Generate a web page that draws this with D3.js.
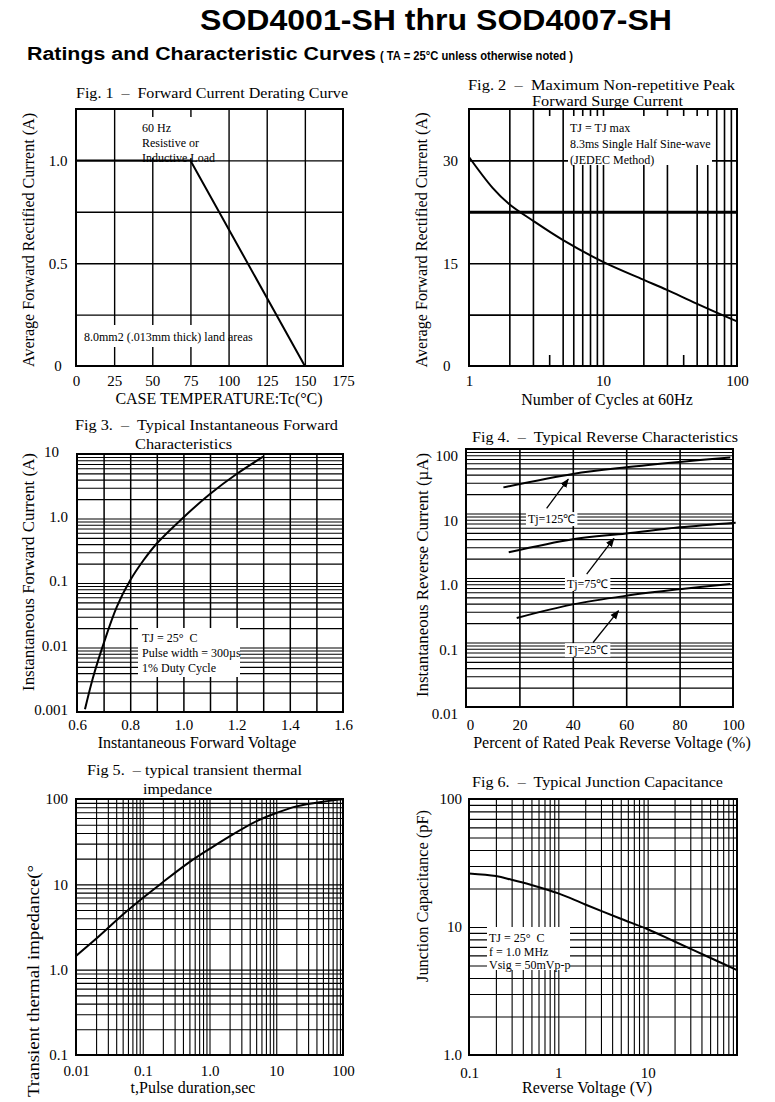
<!DOCTYPE html>
<html>
<head>
<meta charset="utf-8">
<script src="https://cdn.jsdelivr.net/npm/d3@7"></script>
<style>
body { margin: 0; background: #fff; }
svg text { font-family: "Liberation Serif", "Times New Roman", serif; fill: #000; white-space: pre; }
svg .sans { font-family: "Liberation Sans", Arial, sans-serif; font-weight: bold; }
</style>
</head>
<body>
<svg id="chart" width="775" height="1102"></svg>
<script>
// ---- data ----
// fig 1 derating
const f1Temp = [0, 75, 150];
const f1Amp = [1.0, 1.0, 0];
const f1XTicks = [0, 25, 50, 75, 100, 125, 150, 175];
const f1YTicks = [0, 0.5, 1.0];
const f1YLabels = ["0", "0.5", "1.0"];

// fig 2 surge current
const f2Cycles = [1, 1.5, 2, 3, 5, 10, 20, 30, 50, 100];
const f2Amp = [30.5, 26, 23.6, 21.2, 18.4, 15.2, 12.6, 11.1, 9.1, 6.5];
const f2XTicks = [1, 10, 100];
const f2YTicks = [0, 15, 30];
const f2YGrid = [7.5, 15, 22.5, 30];

// fig 3 forward characteristics
const f3Volt = [0.63, 0.66, 0.7, 0.75, 0.8, 0.85, 0.9, 1.0, 1.1, 1.2, 1.3];
const f3Amp = [0.0011, 0.0034, 0.0115, 0.043, 0.11, 0.225, 0.41, 1.04, 2.4, 4.9, 9.1];
const f3XTicks = [0.6, 0.7, 0.8, 0.9, 1.0, 1.1, 1.2, 1.3, 1.4, 1.5, 1.6];
const f3XLabels = ["0.6", "0.8", "1.0", "1.2", "1.4", "1.6"];
const f3YTicks = [0.001, 0.01, 0.1, 1, 10];
const f3YLabels = ["0.001", "0.01", "0.1", "1.0", "10"];

// fig 4 reverse characteristics
const f4Pct125 = [14, 40, 60, 80, 99];
const f4Ir125 = [25.4, 41, 52, 63, 74];
const f4Pct75 = [16, 40, 60, 80, 101];
const f4Ir75 = [2.5, 4.0, 4.9, 6.1, 7.2];
const f4Pct25 = [19, 40, 60, 80, 99];
const f4Ir25 = [0.24, 0.39, 0.53, 0.67, 0.81];
const f4Names = ["Tj=125℃", "Tj=75℃", "Tj=25℃"];
const f4NamePos = [[23.2, 7.1], [37.8, 0.70], [37.8, 0.066]];
const f4ArrowFrom = [[30.2, 12], [45.2, 1.15], [47.6, 0.10]];
const f4ArrowTo = [[38.3, 34], [55.4, 4.1], [57.1, 0.31]];
const f4XTicks = [0, 20, 40, 60, 80, 100];
const f4YTicks = [0.01, 0.1, 1, 10, 100];
const f4YLabels = ["0.01", "0.1", "1.0", "10", "100"];

// fig 5 transient thermal impedance
const f5Time = [0.01, 0.02, 0.05, 0.1, 0.2, 0.5, 1, 2, 5, 10, 20, 50, 100];
const f5Imp = [1.45, 2.3, 4.4, 6.9, 10.6, 18.2, 26, 36.5, 54.7, 68.5, 82, 93, 99];
const f5XTicks = [0.01, 0.1, 1, 10, 100];
const f5XLabels = ["0.01", "0.1", "1.0", "10", "100"];
const f5YTicks = [0.1, 1, 10, 100];
const f5YLabels = ["0.1", "1.0", "10", "100"];

// fig 6 junction capacitance
const f6Volt = [0.1, 0.2, 0.3, 0.5, 1, 2, 5, 10, 20, 50, 100];
const f6Cap = [26.2, 25, 23.4, 21.3, 18.3, 15, 11.6, 9.6, 7.7, 5.75, 4.6];
const f6XTicks = [0.1, 1, 10];
const f6XLabels = ["0.1", "1", "10"];
const f6YTicks = [1, 10, 100];
const f6YLabels = ["1.0", "10", "100"];

const svg = d3.select("#chart");

// ---- helpers ----
function gridX(g, x, y, vals, w) {
  const [b, t] = y.range();
  g.append("g").attr("transform", `translate(0,${b})`)
    .call(d3.axisBottom(x).tickValues(vals).tickSize(-(b - t)).tickFormat(""))
    .call(s => { s.select(".domain").remove(); s.selectAll("line").attr("stroke", "#000").attr("stroke-width", w); });
}
function gridY(g, x, y, vals, w) {
  const [l, r] = x.range();
  g.append("g").attr("transform", `translate(${l},0)`)
    .call(d3.axisLeft(y).tickValues(vals).tickSize(-(r - l)).tickFormat(""))
    .call(s => { s.select(".domain").remove(); s.selectAll("line").attr("stroke", "#000").attr("stroke-width", w); });
}
function labelsX(g, x, y, vals, labels, pad) {
  return g.append("g").attr("transform", `translate(0,${y.range()[0]})`)
    .call(d3.axisBottom(x).tickValues(vals).tickSize(0).tickPadding(pad).tickFormat((d, i) => labels[i]))
    .attr("font-family", null).attr("font-size", 15)
    .call(s => s.select(".domain").remove());
}
function labelsY(g, x, y, vals, labels, pad, dy, anchor) {
  const a = g.append("g").attr("transform", `translate(${x.range()[0]},0)`)
    .call(d3.axisLeft(y).tickValues(vals).tickSize(0).tickPadding(pad).tickFormat((d, i) => labels[i]))
    .attr("font-family", null).attr("font-size", 15)
    .call(s => s.select(".domain").remove());
  if (dy) a.selectAll("text").attr("transform", `translate(0,${dy})`);
  if (anchor) a.attr("text-anchor", anchor);
  return a;
}
function frame(g, x, y) {
  const [l, r] = x.range(), [b, t] = y.range();
  g.append("rect").attr("x", l).attr("y", t).attr("width", r - l).attr("height", b - t)
    .attr("fill", "none").attr("stroke", "#000").attr("stroke-width", 2);
}
function curve(g, x, y, xs, ys, shape) {
  g.append("path").datum(d3.zip(xs, ys))
    .attr("fill", "none").attr("stroke", "#000").attr("stroke-width", 2)
    .attr("d", d3.line().x(d => x(d[0])).y(d => y(d[1])).curve(shape || d3.curveCatmullRom.alpha(0.5)));
}
function note(g, box, lines, x0, y0, step) {
  g.append("rect").attr("x", box[0]).attr("y", box[1]).attr("width", box[2]).attr("height", box[3]).attr("fill", "#fff");
  lines.forEach((s, i) => g.append("text").attr("x", x0).attr("y", y0 + i * step).attr("font-size", 12).text(s));
}
function text(t, x, y, size, len, cls) {
  const e = svg.append("text").attr("x", x).attr("y", y).attr("font-size", size).text(t);
  if (len) e.attr("textLength", len).attr("lengthAdjust", "spacingAndGlyphs");
  if (cls) e.attr("class", cls);
  return e;
}
function ylabel(t, x, cy, len) {
  svg.append("text").attr("transform", `translate(${x},${cy}) rotate(-90)`)
    .attr("text-anchor", "middle").attr("font-size", 16.5)
    .attr("textLength", len).attr("lengthAdjust", "spacingAndGlyphs").text(t);
}
function xlabel(t, cx, y) {
  svg.append("text").attr("x", cx).attr("y", y).attr("text-anchor", "middle").attr("font-size", 16).text(t);
}

// ---- page titles ----
text("SOD4001-SH thru SOD4007-SH", 200, 30, 30, 472, "sans");
text("Ratings and Characteristic Curves", 27, 60, 18, 349, "sans");
text("( TA = 25°C unless otherwise noted )", 380, 60, 13, 193, "sans");

// ---- Fig 1 ----
{
  const g = svg.append("g");
  const x = d3.scaleLinear().domain([0, 175]).range([76, 343]);
  const y = d3.scaleLinear().domain([0, 1.25]).range([366, 109]);
  gridX(g, x, y, f1XTicks.slice(1, -1), 1.4);
  gridY(g, x, y, [0.25, 0.5, 0.75, 1.0], 1.4);
  note(g, [138, 117, 82, 41], ["60 Hz", "Resistive or", "Inductive Load"], 142, 132, 15);
  note(g, [82, 325, 144, 22], ["8.0mm2 (.013mm thick) land areas"], 84, 341, 0);
  curve(g, x, y, f1Temp, f1Amp, d3.curveLinear);
  frame(g, x, y);
  labelsX(g, x, y, f1XTicks, f1XTicks.map(String), 9);
  labelsY(g, x, y, f1YTicks, f1YLabels, 18, 0, "middle");
  text("Fig. 1  –  Forward Current Derating Curve", 76, 98, 15, 272);
  ylabel("Average Forward Rectified Current (A)", 34, 240, 254);
  xlabel("CASE TEMPERATURE:Tc(°C)", 219, 404);
}

// ---- Fig 2 ----
{
  const g = svg.append("g");
  const x = d3.scaleLog().domain([1, 100]).range([469, 737]);
  const y = d3.scaleLinear().domain([0, 37.5]).range([366, 109]);
  const all = x.ticks().filter(d => d > 1 && d < 100);
  gridX(g, x, y, all.filter(d => d !== 4 && d !== 40), 1.6);
  // 4 and 40 only have short marks at top and bottom
  g.selectAll("line.stub").data([4, 40].flatMap(d => [[d, 109, 116], [d, 355, 366]])).join("line")
    .attr("x1", d => x(d[0])).attr("x2", d => x(d[0])).attr("y1", d => d[1]).attr("y2", d => d[2])
    .attr("stroke", "#000").attr("stroke-width", 1.6);
  gridY(g, x, y, f2YGrid.filter(d => d !== 22.5), 1.6);
  gridY(g, x, y, [22.5], 3);
  note(g, [568, 116, 144, 49], ["TJ = TJ max", "8.3ms Single Half Sine-wave", "(JEDEC Method)"], 570, 132, 16);
  curve(g, x, y, f2Cycles, f2Amp);
  frame(g, x, y);
  labelsX(g, x, y, f2XTicks, f2XTicks.map(String), 9);
  labelsY(g, x, y, f2YTicks, f2YTicks.map(String), 26, 0, "start");
  text("Fig. 2  –  Maximum Non-repetitive Peak", 468, 90, 15, 267);
  text("Forward Surge Current", 532, 106, 15, 151);
  ylabel("Average Forward Rectified Current (A)", 427, 240, 255);
  xlabel("Number of Cycles at 60Hz", 607, 405);
}

// ---- Fig 3 ----
{
  const g = svg.append("g");
  const x = d3.scaleLinear().domain([0.6, 1.6]).range([77, 343]);
  const y = d3.scaleLog().domain([0.001, 10]).range([712, 454]);
  gridX(g, x, y, f3XTicks.slice(1, -1), 1.5);
  gridY(g, x, y, y.ticks().filter(d => d > 0.001 && d < 10), 1.1);
  note(g, [138, 628, 102, 49], ["TJ = 25°  C", "Pulse width = 300µs", "1% Duty Cycle"], 142, 642, 15);
  curve(g, x, y, f3Volt, f3Amp);
  frame(g, x, y);
  labelsX(g, x, y, f3XLabels.map(Number), f3XLabels, 7);
  labelsY(g, x, y, f3YTicks, f3YLabels, 9, -2)
    .selectAll(".tick text").filter(d => d === 10).attr("dx", -9);
  text("Fig 3.  –  Typical Instantaneous Forward", 75, 430, 15, 263);
  text("Characteristics", 135, 449, 15, 97);
  ylabel("Instantaneous Forward Current (A)", 34, 572, 238);
  xlabel("Instantaneous Forward Voltage", 197, 748);
}

// ---- Fig 4 ----
{
  const g = svg.append("g");
  const x = d3.scaleLinear().domain([0, 100]).range([466, 733]);
  const y = d3.scaleLog().domain([0.01, 100]).range([707, 449]);
  gridX(g, x, y, [20, 40, 60, 80], 1.6);
  gridY(g, x, y, y.ticks().filter(d => d > 0.01 && d < 100), 1.1);
  svg.append("defs").append("marker").attr("id", "ah").attr("viewBox", "0 0 10 10")
    .attr("refX", 9).attr("refY", 5).attr("markerWidth", 7).attr("markerHeight", 7).attr("orient", "auto")
    .append("path").attr("d", "M0,1L10,5L0,9Z").attr("fill", "#000");
  f4Names.forEach((s, i) => {
    const t = g.append("text").attr("x", x(f4NamePos[i][0])).attr("y", y(f4NamePos[i][1]))
      .attr("font-size", 12).text(s);
    const bb = t.node().getBBox();
    g.insert("rect", () => t.node()).attr("x", bb.x - 2).attr("y", bb.y).attr("width", bb.width + 4).attr("height", bb.height)
      .attr("fill", "#fff");
  });
  g.selectAll("line.arrow").data(d3.range(3)).join("line")
    .attr("x1", i => x(f4ArrowFrom[i][0])).attr("y1", i => y(f4ArrowFrom[i][1]))
    .attr("x2", i => x(f4ArrowTo[i][0])).attr("y2", i => y(f4ArrowTo[i][1]))
    .attr("stroke", "#000").attr("stroke-width", 1.3).attr("marker-end", "url(#ah)");
  curve(g, x, y, f4Pct125, f4Ir125);
  curve(g, x, y, f4Pct75, f4Ir75);
  curve(g, x, y, f4Pct25, f4Ir25);
  frame(g, x, y);
  labelsX(g, x, y, f4XTicks, f4XTicks.map(String), 12)
    .selectAll(".tick text").filter(d => d === 0).attr("dx", 4);
  labelsY(g, x, y, f4YTicks, f4YLabels, 8, 7);
  text("Fig 4.  –  Typical Reverse Characteristics", 472, 442, 15, 266);
  ylabel("Instantaneous Reverse Current (µA)", 428, 575, 244);
  xlabel("Percent of Rated Peak Reverse Voltage (%)", 612, 748);
}

// ---- Fig 5 ----
{
  const g = svg.append("g");
  const x = d3.scaleLog().domain([0.01, 100]).range([76, 343]);
  const y = d3.scaleLog().domain([0.1, 100]).range([1055, 799]);
  gridX(g, x, y, x.ticks().filter(d => d > 0.01 && d < 100), 1.1);
  gridY(g, x, y, y.ticks().filter(d => d > 0.1 && d < 100), 1.1);
  curve(g, x, y, f5Time, f5Imp);
  frame(g, x, y);
  labelsX(g, x, y, f5XTicks, f5XLabels, 10);
  labelsY(g, x, y, f5YTicks, f5YLabels, 8);
  text("Fig 5.  – typical transient thermal", 87, 775, 15, 215);
  text("impedance", 143, 794, 15, 69);
  ylabel("Transient thermal impedance(°", 39, 981, 232);
  xlabel("t,Pulse duration,sec", 193, 1093);
}

// ---- Fig 6 ----
{
  const g = svg.append("g");
  const x = d3.scaleLog().domain([0.1, 100]).range([469, 737]);
  const y = d3.scaleLog().domain([1, 100]).range([1055, 799]);
  gridX(g, x, y, x.ticks().filter(d => d > 0.1 && d < 100), 1.1);
  gridY(g, x, y, y.ticks().filter(d => d > 1 && d < 100), 1.1);
  note(g, [487, 927, 83, 43], ["TJ = 25°  C", "f = 1.0 MHz", "Vsig = 50mVp-p"], 489, 942, 13.5);
  curve(g, x, y, f6Volt, f6Cap);
  frame(g, x, y);
  labelsX(g, x, y, f6XTicks, f6XLabels, 12);
  labelsY(g, x, y, f6YTicks, f6YLabels, 7);
  text("Fig 6.  –  Typical Junction Capacitance", 472, 787, 15, 251);
  ylabel("Junction Capacitance (pF)", 428, 896, 172);
  xlabel("Reverse Voltage (V)", 587, 1093);
}
</script>
</body>
</html>
